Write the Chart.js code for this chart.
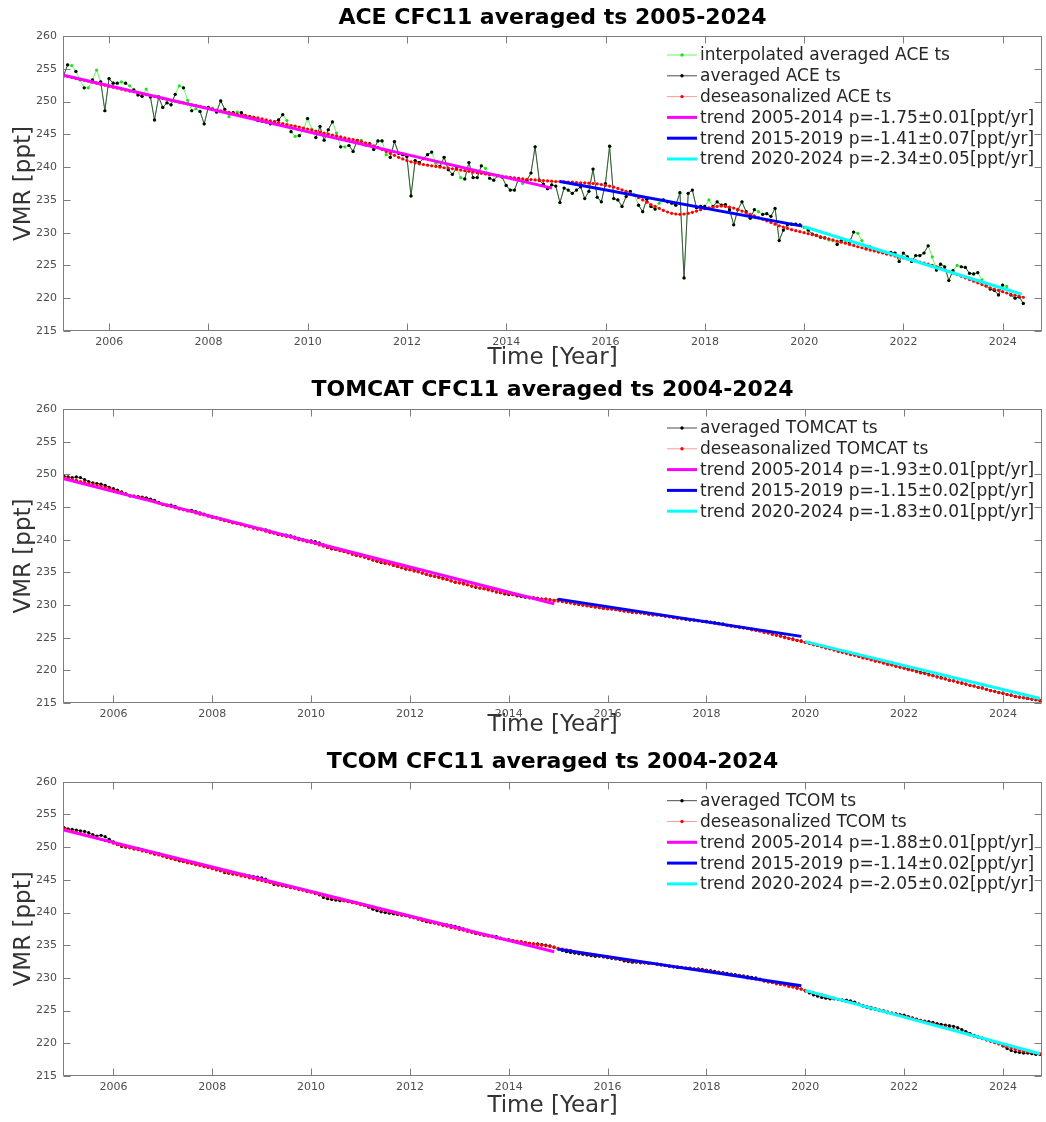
<!DOCTYPE html>
<html><head><meta charset="utf-8">
<script src="https://cdn.jsdelivr.net/npm/chart.js@4.4.1/dist/chart.umd.min.js"></script>
<style>
html,body{margin:0;padding:0;background:#fff;}
#wrap{position:relative;width:1046px;height:1122px;background:#fff;}
canvas{position:absolute;left:0;}
</style></head><body>
<div id="wrap">
<canvas id="c1" width="1046" height="370" style="top:0px"></canvas>
<canvas id="c2" width="1046" height="370" style="top:370px"></canvas>
<canvas id="c3" width="1046" height="382" style="top:740px"></canvas>
</div>
<script>
// ---------------- DATA ----------------
const xTickYears = [2006, 2008, 2010, 2012, 2014, 2016, 2018, 2020, 2022, 2024];
const yTickValues = [215, 220, 225, 230, 235, 240, 245, 250, 255, 260];

// ACE: monthly, first month 2005.08
const aceStartYear = 2005.08;
const aceAveraged = [
253.9,255.6,255.5,254.6,253.3,252.1,252.1,253.3,254.8,253.0,248.6,253.5,
252.8,252.8,253.0,252.8,252.4,251.8,251.0,250.8,251.9,250.7,247.2,250.7,
249.1,249.8,249.5,251.1,252.4,252.1,250.2,248.6,248.9,248.5,246.6,249.1,
249.0,248.4,250.1,248.8,247.7,248.3,248.4,248.3,247.8,247.7,247.6,247.1,
247.0,246.9,246.6,246.9,247.2,248.0,247.1,245.4,244.7,244.8,245.8,247.4,
245.8,244.5,246.2,244.1,245.7,246.9,245.2,243.1,243.1,243.3,242.4,244.1,
244.1,243.4,243.6,242.7,244.0,244.0,241.9,241.5,243.9,242.1,241.9,241.6,
235.6,241.0,240.7,241.3,241.9,242.3,240.6,240.1,241.5,239.6,238.9,239.8,
238.4,238.2,240.7,238.4,238.4,240.2,239.8,238.3,238.0,238.7,238.5,237.2,
236.5,236.5,238.2,237.5,238.0,239.1,243.1,238.0,237.4,236.7,237.3,237.1,
234.6,236.8,236.5,236.0,236.5,237.0,235.2,236.3,239.7,235.4,234.7,237.5,
243.2,235.2,235.0,234.0,235.5,236.3,235.8,234.2,233.2,235.1,234.0,233.6,
234.5,235.0,234.7,234.5,234.2,236.1,223.1,236.0,236.5,233.8,234.0,234.0,
235.0,234.0,234.7,234.2,234.3,233.5,231.2,233.5,234.7,233.2,232.2,233.5,
233.2,232.8,232.9,232.5,233.7,228.8,230.4,231.2,231.3,231.3,231.2,230.8,
230.4,229.8,229.6,229.3,229.2,228.9,228.8,228.2,228.8,228.8,228.5,230.1,
229.9,228.8,227.6,227.8,227.4,227.1,227.1,226.8,227.0,226.9,225.6,226.9,
226.3,225.6,226.5,226.5,226.9,228.0,226.3,224.3,225.2,224.8,222.7,224.2,
225.0,224.8,224.7,223.8,223.7,223.9,222.8,221.9,221.4,221.2,220.5,222.0,
221.8,220.5,220.0,220.2,219.2];
// months (index into aceAveraged) that are interpolated (no measurement)
const aceInterpolatedIdx = [2,4,6,8,14,16,20,28,30,32,36,40,42,54,56,58,60,66,68,72,78,90,96,102,111,
138,144,156,168,179,185,186,189,192,193,198,210,216,222,228];
const aceDeseason = [
254.0,253.85,253.7,253.55,253.4,253.25,253.1,252.95,252.8,252.65,252.5,252.35,
252.2,252.05,251.9,251.75,251.6,251.5,251.35,251.2,251.05,250.9,250.8,250.65,
250.5,250.35,250.2,250.05,249.9,249.8,249.65,249.5,249.4,249.25,249.1,249.0,
248.85,248.7,248.6,248.45,248.35,248.2,248.1,247.95,247.85,247.7,247.6,247.5,
247.35,247.2,247.05,246.9,246.8,246.65,246.5,246.35,246.25,246.1,245.95,245.8,
245.65,245.5,245.35,245.2,245.05,244.9,244.75,244.6,244.45,244.3,244.2,244.05,
243.9,243.7,243.5,243.25,243.0,242.7,242.4,242.1,241.8,241.5,241.25,241.0,
240.8,240.65,240.5,240.4,240.3,240.2,240.1,240.0,239.9,239.85,239.75,239.65,
239.55,239.45,239.35,239.25,239.15,239.05,238.95,238.85,238.8,238.7,238.6,238.5,
238.45,238.35,238.3,238.2,238.15,238.1,238.05,238.0,237.95,237.9,237.85,237.8,
237.8,237.75,237.7,237.7,237.65,237.6,237.6,237.55,237.5,237.45,237.35,237.2,
237.1,236.95,236.75,236.55,236.3,236.0,235.7,235.35,235.0,234.65,234.3,234.0,
233.7,233.4,233.15,232.95,232.85,232.8,232.85,232.95,233.1,233.3,233.5,233.65,
233.8,233.9,234.0,234.05,234.0,233.9,233.75,233.55,233.3,233.05,232.8,232.55,
232.3,232.05,231.8,231.55,231.3,231.05,230.85,230.65,230.45,230.3,230.15,230.0,
229.85,229.7,229.55,229.4,229.25,229.05,228.9,228.7,228.55,228.4,228.2,228.05,
227.85,227.7,227.5,227.35,227.2,227.05,226.9,226.75,226.6,226.45,226.3,226.15,
226.0,225.85,225.7,225.5,225.35,225.2,225.0,224.8,224.6,224.35,224.1,223.85,
223.6,223.35,223.1,222.85,222.6,222.35,222.1,221.85,221.6,221.4,221.2,221.0,
220.8,220.6,220.45,220.3,220.15];
const aceTrendYears  = [[2005.08, 2014.92], [2015.08, 2019.96], [2020.0, 2024.38]];
const aceTrendValues = [[254.0, 236.8], [237.8, 231.0], [230.9, 220.6]];
const aceTrendLabels = ['trend 2005-2014 p=-1.75\u00b10.01[ppt/yr]','trend 2015-2019 p=-1.41\u00b10.07[ppt/yr]','trend 2020-2024 p=-2.34\u00b10.05[ppt/yr]'];

// TOMCAT: monthly from 2005.0
const tomcatStartYear = 2005.0;
const tomcatAveraged = [
249.7,249.6,249.5,249.6,249.5,249.2,248.9,248.7,248.6,248.5,248.3,248.0,
247.8,247.6,247.3,247.0,246.7,246.6,246.6,246.5,246.4,246.2,246.0,245.7,
245.4,245.3,245.3,245.1,244.8,244.6,244.5,244.5,244.3,244.1,243.9,243.7,
243.5,243.4,243.2,243.0,242.8,242.6,242.5,242.4,242.2,242.0,241.8,241.7,
241.6,241.5,241.3,241.1,240.8,240.7,240.7,240.6,240.4,240.2,240.0,239.8,
239.8,239.7,239.5,239.2,238.8,238.6,238.5,238.4,238.2,238.0,237.8,237.6,
237.5,237.4,237.1,236.9,236.7,236.5,236.4,236.3,236.1,235.9,235.7,235.5,
235.4,235.3,235.1,234.9,234.7,234.5,234.4,234.3,234.1,233.9,233.7,233.5,
233.4,233.3,233.1,232.9,232.7,232.6,232.5,232.4,232.2,232.0,231.9,231.7,
231.6,231.6,231.4,231.3,231.2,231.1,231.1,231.0,230.9,230.9,230.8,230.7,
230.8,230.7,230.5,230.4,230.2,230.1,230.0,229.9,229.8,229.7,229.6,229.5,
229.5,229.4,229.3,229.2,229.1,229.0,228.9,228.9,228.8,228.7,228.6,228.5,
228.5,228.4,228.3,228.2,228.1,228.0,227.9,227.8,227.7,227.7,227.6,227.5,
227.5,227.4,227.3,227.2,227.1,226.9,226.8,226.7,226.6,226.5,226.4,226.3,
226.2,226.1,226.0,225.8,225.6,225.4,225.3,225.1,224.9,224.8,224.6,224.5,
224.3,224.2,224.0,223.8,223.7,223.5,223.3,223.2,223.0,222.8,222.7,222.5,
222.4,222.2,222.0,221.9,221.7,221.5,221.4,221.2,221.0,220.9,220.7,220.5,
220.4,220.2,220.1,219.9,219.7,219.6,219.4,219.2,219.0,218.9,218.7,218.5,
218.4,218.2,218.1,217.9,217.7,217.6,217.4,217.3,217.1,216.9,216.8,216.6,
216.5,216.3,216.2,216.0,215.9,215.8,215.7,215.6,215.5,215.4];
const tomcatDeseason = [
249.5,249.4,249.2,249.1,248.9,248.8,248.6,248.5,248.3,248.2,248.0,247.8,
247.6,247.4,247.2,247.0,246.8,246.7,246.5,246.4,246.2,246.0,245.8,245.6,
245.4,245.2,245.1,244.9,244.7,244.6,244.4,244.3,244.1,243.9,243.8,243.6,
243.4,243.3,243.1,242.9,242.8,242.6,242.5,242.3,242.1,242.0,241.8,241.6,
241.5,241.3,241.1,241.0,240.8,240.7,240.5,240.4,240.2,240.0,239.9,239.7,
239.6,239.4,239.2,239.0,238.8,238.7,238.5,238.3,238.2,238.0,237.8,237.6,
237.5,237.3,237.1,236.9,236.8,236.6,236.4,236.3,236.1,235.9,235.7,235.6,
235.4,235.2,235.1,234.9,234.7,234.5,234.4,234.2,234.0,233.9,233.7,233.5,
233.4,233.2,233.1,232.9,232.8,232.6,232.5,232.3,232.2,232.0,231.9,231.8,
231.7,231.6,231.5,231.4,231.3,231.2,231.1,231.0,230.9,230.9,230.8,230.7,
230.6,230.5,230.4,230.3,230.2,230.1,230.0,229.9,229.8,229.7,229.6,229.5,
229.4,229.4,229.3,229.2,229.1,229.0,228.9,228.8,228.8,228.7,228.6,228.5,
228.5,228.4,228.3,228.2,228.1,228.0,227.9,227.9,227.8,227.7,227.6,227.5,
227.4,227.3,227.2,227.1,227.0,226.9,226.8,226.7,226.6,226.5,226.4,226.2,
226.1,226.0,225.8,225.7,225.5,225.4,225.2,225.0,224.9,224.7,224.6,224.4,
224.3,224.1,223.9,223.8,223.6,223.4,223.3,223.1,222.9,222.8,222.6,222.4,
222.3,222.1,221.9,221.8,221.6,221.4,221.3,221.1,220.9,220.8,220.6,220.5,
220.3,220.1,220.0,219.8,219.6,219.5,219.3,219.2,219.0,218.8,218.7,218.5,
218.4,218.2,218.0,217.9,217.7,217.6,217.4,217.3,217.1,216.9,216.8,216.6,
216.5,216.3,216.2,216.0,215.9,215.8,215.7,215.6,215.5,215.4];
const tomcatTrendYears  = [[2005.0, 2014.92], [2015.0, 2019.92], [2020.0, 2024.75]];
const tomcatTrendValues = [[249.3, 230.2], [230.9, 225.2], [224.4, 215.7]];
const tomcatTrendLabels = ['trend 2005-2014 p=-1.93\u00b10.01[ppt/yr]','trend 2015-2019 p=-1.15\u00b10.02[ppt/yr]','trend 2020-2024 p=-1.83\u00b10.01[ppt/yr]'];

// TCOM: monthly from 2005.0
const tcomStartYear = 2005.0;
const tcomAveraged = [
253.0,252.8,252.7,252.6,252.5,252.4,252.2,251.9,251.7,251.8,251.6,251.2,
250.8,250.4,250.1,250.0,249.9,249.8,249.8,249.6,249.4,249.2,249.1,249.0,
248.7,248.5,248.3,248.1,247.9,247.8,247.7,247.6,247.4,247.3,247.1,246.9,
246.8,246.6,246.4,246.1,246.0,245.9,245.8,245.7,245.7,245.6,245.5,245.4,
245.3,245.1,244.7,244.3,244.2,244.1,244.0,243.9,243.8,243.7,243.5,243.3,
243.2,243.0,242.7,242.3,242.1,242.0,241.9,241.8,241.8,241.7,241.6,241.5,
241.3,241.1,240.8,240.5,240.3,240.1,240.0,239.9,239.8,239.7,239.6,239.5,
239.4,239.2,239.0,238.8,238.6,238.5,238.4,238.3,238.2,238.1,238.0,237.9,
237.7,237.5,237.3,237.0,236.8,236.7,236.6,236.5,236.4,236.3,236.1,235.9,
235.8,235.7,235.6,235.5,235.4,235.3,235.2,235.2,235.1,235.0,234.9,234.7,
234.4,234.2,234.0,233.9,233.8,233.7,233.6,233.5,233.4,233.3,233.3,233.2,
233.1,233.0,232.9,232.8,232.6,232.5,232.4,232.4,232.3,232.3,232.2,232.2,
232.1,232.0,231.9,231.8,231.7,231.6,231.6,231.5,231.5,231.4,231.4,231.3,
231.2,231.1,231.0,230.9,230.8,230.7,230.6,230.5,230.4,230.3,230.2,230.1,
230.0,229.8,229.6,229.4,229.3,229.2,229.1,229.0,228.9,228.7,228.5,228.3,
228.0,227.7,227.4,227.2,227.0,226.9,226.8,226.8,226.7,226.6,226.6,226.5,
226.3,226.0,225.7,225.5,225.3,225.2,225.0,224.9,224.7,224.6,224.5,224.4,
224.3,224.1,223.9,223.7,223.5,223.4,223.3,223.2,223.0,222.9,222.8,222.7,
222.6,222.4,222.1,221.8,221.5,221.2,221.0,220.8,220.6,220.4,220.2,220.0,
219.6,219.2,218.9,218.7,218.6,218.5,218.5,218.4,218.3,218.3];
const tcomDeseason = [
252.8,252.6,252.4,252.3,252.1,251.9,251.8,251.6,251.4,251.2,251.0,250.8,
250.6,250.4,250.2,250.0,249.9,249.7,249.6,249.4,249.3,249.1,248.9,248.8,
248.6,248.4,248.3,248.1,248.0,247.8,247.6,247.5,247.3,247.2,247.0,246.9,
246.7,246.5,246.4,246.2,246.1,245.9,245.8,245.6,245.5,245.3,245.2,245.0,
244.9,244.7,244.6,244.4,244.3,244.1,244.0,243.8,243.7,243.5,243.4,243.2,
243.1,242.9,242.8,242.6,242.4,242.3,242.1,242.0,241.8,241.7,241.5,241.4,
241.2,241.1,240.9,240.8,240.6,240.4,240.3,240.1,240.0,239.8,239.6,239.5,
239.3,239.2,239.0,238.8,238.7,238.5,238.4,238.2,238.0,237.9,237.7,237.6,
237.4,237.3,237.1,237.0,236.8,236.7,236.5,236.4,236.3,236.1,236.0,235.9,
235.8,235.7,235.6,235.5,235.4,235.3,235.2,235.1,235.0,234.9,234.8,234.7,
234.5,234.4,234.3,234.2,234.0,233.9,233.8,233.7,233.6,233.5,233.4,233.3,
233.2,233.1,233.0,232.9,232.8,232.7,232.6,232.5,232.4,232.3,232.2,232.2,
232.1,232.0,231.9,231.8,231.7,231.7,231.6,231.5,231.4,231.3,231.3,231.2,
231.1,231.0,230.9,230.8,230.7,230.6,230.5,230.4,230.3,230.2,230.0,229.9,
229.8,229.7,229.5,229.4,229.3,229.1,229.0,228.9,228.7,228.6,228.4,228.3,
228.1,227.9,227.7,227.5,227.4,227.2,227.0,226.9,226.7,226.6,226.4,226.3,
226.1,226.0,225.8,225.6,225.5,225.3,225.1,225.0,224.8,224.6,224.5,224.3,
224.1,224.0,223.8,223.6,223.5,223.3,223.1,223.0,222.8,222.6,222.5,222.3,
222.1,221.9,221.7,221.5,221.3,221.1,220.9,220.7,220.5,220.3,220.1,219.9,
219.7,219.5,219.3,219.1,218.9,218.8,218.7,218.6,218.5,218.4];
const tcomTrendYears  = [[2005.0, 2014.92], [2015.0, 2019.92], [2020.0, 2024.75]];
const tcomTrendValues = [[252.6, 234.0], [234.4, 228.8], [228.1, 218.4]];
const tcomTrendLabels = ['trend 2005-2014 p=-1.88\u00b10.01[ppt/yr]','trend 2015-2019 p=-1.14\u00b10.02[ppt/yr]','trend 2020-2024 p=-2.05\u00b10.02[ppt/yr]'];

// ---------------- STYLE / HELPERS ----------------
const FONT = '"DejaVu Sans", "Liberation Sans", sans-serif';
const trendColors = ['#ff00ff', '#0000ff', '#00ffff'];

function monthly(start, values, skip) {
  const s = new Set(skip || []);
  return values.map((v, i) => ({ x: start + i / 12, y: s.has(i) ? null : v }));
}
function trendData(years, vals) {
  return years.map((yr, i) => ({ x: yr, y: vals[i] }));
}
function dotSeries(label, data, line, dot, order) {
  return { label, data, borderColor: line, backgroundColor: dot, pointBackgroundColor: dot,
    pointBorderWidth: 0, pointRadius: 1.6, pointHoverRadius: 1.6, borderWidth: 1, tension: 0,
    spanGaps: false, order, _kind: 'dot' };
}
function trendSeries(label, data, color, order) {
  return { label, data, borderColor: color, backgroundColor: color, pointRadius: 0,
    borderWidth: 3, tension: 0, order, _kind: 'trend' };
}

const boxPlugin = {
  id: 'matlabBox',
  afterDatasetsDraw(chart) {
    const { ctx, chartArea: a, scales: { x, y } } = chart;
    ctx.save();
    ctx.strokeStyle = '#7d7d7d';
    ctx.lineWidth = 1;
    const L = Math.round(a.left) + 0.5, R = Math.round(a.right) - 0.5;
    const T = Math.round(a.top) + 0.5, B = Math.round(a.bottom) - 0.5;
    ctx.strokeRect(L, T, R - L, B - T);
    ctx.beginPath();
    const tl = 7;
    xTickYears.forEach(v => {
      const px = Math.round(x.getPixelForValue(v)) + 0.5;
      ctx.moveTo(px, B); ctx.lineTo(px, B - tl);
      ctx.moveTo(px, T); ctx.lineTo(px, T + tl);
    });
    yTickValues.forEach(v => {
      const py = Math.round(y.getPixelForValue(v)) + 0.5;
      ctx.moveTo(L, py); ctx.lineTo(L + tl, py);
      ctx.moveTo(R, py); ctx.lineTo(R - tl, py);
    });
    ctx.stroke();
    ctx.restore();
  }
};

const legendPlugin = {
  id: 'matlabLegend',
  afterDraw(chart, args, opts) {
    const { ctx, chartArea: a } = chart;
    ctx.save();
    ctx.font = '17px ' + FONT;
    ctx.textBaseline = 'middle';
    ctx.textAlign = 'left';
    chart.data.datasets.forEach((ds, k) => {
      const yy = a.top + opts.firstRow + k * opts.rowGap;
      const x0 = a.right - opts.fromRight, x1 = x0 + 30;
      ctx.beginPath();
      ctx.strokeStyle = ds.borderColor;
      ctx.lineWidth = ds._kind === 'trend' ? 3 : 1;
      ctx.moveTo(x0, yy); ctx.lineTo(x1, yy);
      ctx.stroke();
      if (ds._kind === 'dot') {
        ctx.beginPath();
        ctx.fillStyle = ds.pointBackgroundColor;
        ctx.arc((x0 + x1) / 2, yy, 1.7, 0, Math.PI * 2);
        ctx.fill();
      }
      ctx.fillStyle = '#262626';
      ctx.fillText(ds.label, x1 + 3, yy + 1);
    });
    ctx.restore();
  }
};

function makeChart(id, p, datasets) {
  return new Chart(document.getElementById(id), {
    type: 'line',
    data: { datasets },
    plugins: [boxPlugin, legendPlugin],
    options: {
      responsive: false, animation: false, devicePixelRatio: 1,
      layout: { padding: { left: 0, right: 4, top: 0, bottom: 0 } },
      plugins: {
        legend: { display: false }, tooltip: { enabled: false },
        title: { display: true, text: p.title, fullSize: false, color: '#000',
          font: { family: FONT, size: 22, weight: 'bold', lineHeight: 1.2 },
          padding: { top: p.titleTop, bottom: p.titleBottom } },
        matlabLegend: { firstRow: 19, rowGap: 20.8, fromRight: 375 }
      },
      scales: {
        x: { type: 'linear', min: p.xMin, max: p.xMax,
          afterBuildTicks: s => { s.ticks = xTickYears.map(v => ({ value: v })); },
          afterFit: s => { s.height = p.xAxisHeight; },
          grid: { display: false, drawTicks: false }, border: { display: false },
          ticks: { padding: 5, color: '#4d4d4d', autoSkip: false, maxRotation: 0,
            font: { family: FONT, size: 11 }, callback: v => String(v) },
          title: { display: true, text: 'Time [Year]', color: '#333',
            font: { family: FONT, size: 23, lineHeight: 1 }, padding: { top: 0, bottom: p.xTitlePad } } },
        y: { type: 'linear', min: 215, max: 260,
          afterBuildTicks: s => { s.ticks = yTickValues.map(v => ({ value: v })); },
          afterFit: s => { s.width = 63; },
          grid: { display: false, drawTicks: false }, border: { display: false },
          ticks: { padding: 6, color: '#4d4d4d', font: { family: FONT, size: 11 }, callback: v => String(v) },
          title: { display: true, text: 'VMR [ppt]', color: '#333',
            font: { family: FONT, size: 23, lineHeight: 1 }, padding: { top: 13, bottom: 0 } } }
      }
    }
  });
}

function trendSets(years, vals, labels) {
  return years.map((yr, i) => trendSeries(labels[i], trendData(yr, vals[i]), trendColors[i], 2 - i));
}

makeChart('c1', { title: 'ACE CFC11 averaged ts 2005-2024', titleTop: 4.8, titleBottom: 4.8,
  xMin: 2005.07, xMax: 2024.79, xAxisHeight: 39, xTitlePad: 0.5 }, [
  dotSeries('interpolated averaged ACE ts', monthly(aceStartYear, aceAveraged), '#5cff5c', '#1ee01e', 6),
  dotSeries('averaged ACE ts', monthly(aceStartYear, aceAveraged, aceInterpolatedIdx), '#4a4a4a', '#000000', 5),
  dotSeries('deseasonalized ACE ts', monthly(aceStartYear, aceDeseason), '#ff9a9a', '#ff0000', 4),
  ...trendSets(aceTrendYears, aceTrendValues, aceTrendLabels)
]);

makeChart('c2', { title: 'TOMCAT CFC11 averaged ts 2004-2024', titleTop: 6.8, titleBottom: 5.8,
  xMin: 2004.98, xMax: 2024.79, xAxisHeight: 37, xTitlePad: 3.5 }, [
  dotSeries('averaged TOMCAT ts', monthly(tomcatStartYear, tomcatAveraged), '#4a4a4a', '#000000', 5),
  dotSeries('deseasonalized TOMCAT ts', monthly(tomcatStartYear, tomcatDeseason), '#ff9a9a', '#ff0000', 4),
  ...trendSets(tomcatTrendYears, tomcatTrendValues, tomcatTrendLabels)
]);

makeChart('c3', { title: 'TCOM CFC11 averaged ts 2004-2024', titleTop: 8.8, titleBottom: 6.5,
  xMin: 2004.98, xMax: 2024.79, xAxisHeight: 46, xTitlePad: 4.5 }, [
  dotSeries('averaged TCOM ts', monthly(tcomStartYear, tcomAveraged), '#4a4a4a', '#000000', 5),
  dotSeries('deseasonalized TCOM ts', monthly(tcomStartYear, tcomDeseason), '#ff9a9a', '#ff0000', 4),
  ...trendSets(tcomTrendYears, tcomTrendValues, tcomTrendLabels)
]);
</script>
</body></html>
